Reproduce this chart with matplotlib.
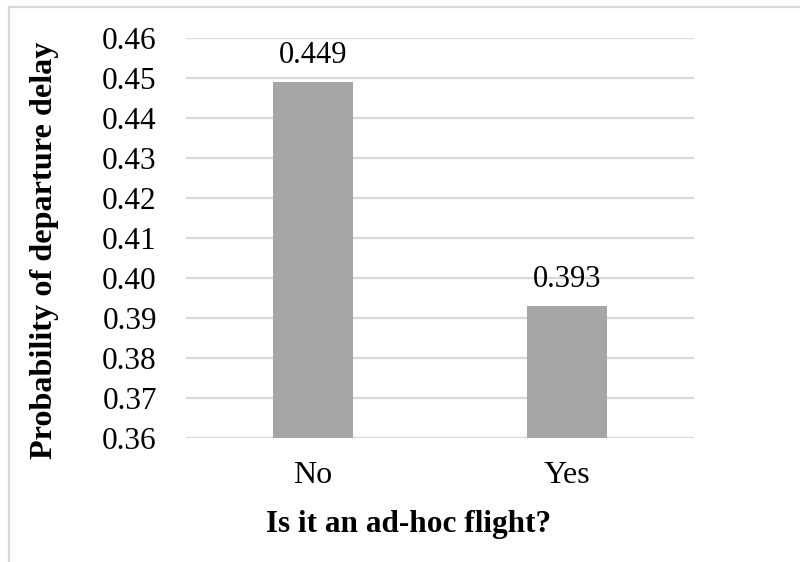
import matplotlib
matplotlib.use("Agg")
import matplotlib.pyplot as plt
from matplotlib.lines import Line2D

categories = ["No", "Yes"]
probabilities = [0.449, 0.393]
y_ticks = [0.36, 0.37, 0.38, 0.39, 0.40, 0.41, 0.42, 0.43, 0.44, 0.45, 0.46]

plt.rcParams["font.family"] = ["Liberation Serif", "DejaVu Serif"]

W, H = 800, 562
fig = plt.figure(figsize=(W / 100, H / 100), dpi=100)
ax = fig.add_axes([186 / W, 1 - 438 / H, 508 / W, 400 / H])

x = range(len(categories))
ax.bar(x, probabilities, width=0.315, color="#A5A5A5", zorder=3)
for xi, v in zip(x, probabilities):
    ax.annotate(f"{v:.3f}", (xi, v), xytext=(0, 14), textcoords="offset points",
                ha="center", va="baseline", fontsize=22, color="#000000")

ax.set_xlim(-0.5, 1.5)
ax.set_ylim(0.36, 0.46)
ax.set_yticks(y_ticks)
ax.set_yticklabels([f"{t:.2f}" for t in y_ticks], fontsize=22.5)
ax.set_xticks(list(x))
ax.set_xticklabels(categories, fontsize=23)
ax.tick_params(axis="both", length=0)
ax.tick_params(axis="y", pad=21)
ax.tick_params(axis="x", pad=16.5)

ax.grid(axis="y", color="#D9D9D9", linewidth=1.6, zorder=0)
for s in ax.spines.values():
    s.set_visible(False)

fig.text(45 / W, 1 - 250 / H, "Probability of departure delay", rotation=90,
         ha="center", va="center", fontsize=23.2, fontweight="bold")
fig.text(409 / W, 1 - 532 / H, "Is it an ad-hoc flight?",
         ha="center", va="baseline", fontsize=22.5, fontweight="bold")

# outer frame lines along top and left
fig.add_artist(Line2D([9 / W, 9 / W], [0, 1 - 7 / H], transform=fig.transFigure, color="#D9D9D9", linewidth=1.6))
fig.add_artist(Line2D([9 / W, 1], [1 - 7 / H, 1 - 7 / H], transform=fig.transFigure, color="#D9D9D9", linewidth=1.6))

fig.savefig("out.png", dpi=100)
